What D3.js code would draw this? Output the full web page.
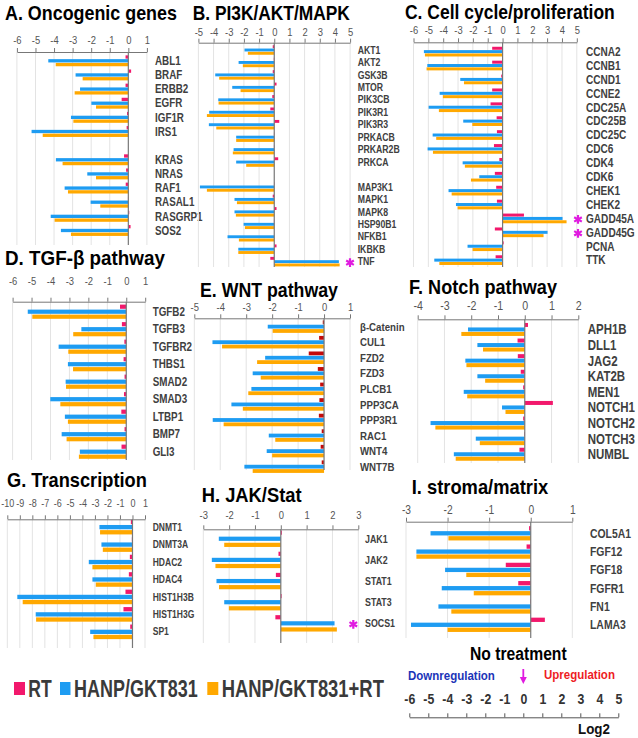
<!DOCTYPE html>
<html><head><meta charset="utf-8">
<script src="https://cdn.jsdelivr.net/npm/d3@7"></script>
<style>body{margin:0;background:#fff}</style>
</head><body>
<svg id="c" width="638" height="738"></svg>
<script>
// ---------- DATA ----------
const aGenes = ["ABL1","BRAF","ERBB2","EGFR","IGF1R","IRS1","KRAS","NRAS","RAF1","RASAL1","RASGRP1","SOS2"];
const aRT   = [-0.15,0.15,-0.15,-0.36,-0.07,-0.09,-0.23,-0.12,-0.14,-0.02,0.05,0.12];
const aHG   = [-4.31,-2.84,-2.6,-1.99,-3.09,-5.21,-3.9,-2.21,-3.43,-2.03,-4.18,-3.63];
const aHGRT = [-3.91,-2.46,-2.89,-1.74,-2.96,-4.61,-3.54,-1.74,-3.25,-1.51,-3.97,-3.09];
const aTicks = [-6,-5,-4,-3,-2,-1,0,1];

const bGenes = ["AKT1","AKT2","GSK3B","MTOR","PIK3CB","PIK3R1","PIK3R3","PRKACB","PRKAR2B","PRKCA","MAP3K1","MAPK1","MAPK8","HSP90B1","NFKB1","IKBKB","TNF"];
const bRT   = [-0.1,-0.03,-0.1,0.15,-0.13,-0.26,0.33,-0.02,-0.02,0.26,0.02,-0.1,0.15,-0.02,0,0.15,-0.26];
const bHG   = [-1.96,-2.35,-3.89,-2.77,-3.69,-4.29,-4.31,-2.51,-2.68,-2.51,-4.9,-2.62,-2.62,-2.02,-3.08,-2.37,4.26];
const bHGRT = [-1.74,-2.07,-3.63,-2.22,-3.67,-4.44,-3.82,-2.51,-2.73,-1.85,-4.44,-2.46,-2.53,-1.93,-2.33,-2.37,4.31];
const bTicks = [-5,-4,-3,-2,-1,0,1,2,3,4,5];

const cGenes = ["CCNA2","CCNB1","CCND1","CCNE2","CDC25A","CDC25B","CDC25C","CDC6","CDK4","CDK6","CHEK1","CHEK2","GADD45A","GADD45G","PCNA","TTK"];
const cRT   = [-0.7,-0.7,-0.09,-0.7,-0.81,-0.4,-0.38,-0.58,-0.22,-0.52,-0.43,-0.38,1.44,-0.52,0.07,-0.47];
const cHG   = [-5.3,-5.07,-2.85,-4.24,-4.98,-2.65,-4.71,-5.05,-2.69,-1.57,-3.64,-3.14,4.04,3.03,-2.36,-4.6];
const cHGRT = [-5.23,-5.12,-2.6,-4.02,-4.29,-2.04,-4.47,-4.69,-2.54,-2.13,-3.43,-3.03,4.31,2.76,-2.02,-4.26];
const cTicks = [-6,-5,-4,-3,-2,-1,0,1,2,3,4,5];

const dGenes = ["TGFB2","TGFB3","TGFBR2","THBS1","SMAD2","SMAD3","LTBP1","BMP7","GLI3"];
const dRT   = [-0.33,-0.23,-0.1,-0.14,-0.09,-0.12,-0.26,-0.09,-0.25];
const dHG   = [-5.2,-2.37,-3.57,-3.08,-3.2,-4.01,-3.24,-3.41,-2.45];
const dHGRT = [-4.96,-2.8,-3.06,-2.81,-3.18,-3.48,-3.08,-3.15,-2.5];
const dTicks = [-6,-5,-4,-3,-2,-1,0,1];

const eGenes = ["β-Catenin","CUL1","FZD2","FZD3","PLCB1","PPP3CA","PPP3R1","RAC1","WNT4","WNT7B"];
const eRT   = [-0.05,-0.19,-0.59,-0.24,-0.15,-0.18,-0.2,-0.09,-0.13,-0.09];
const eHG   = [-2.17,-4.3,-2.27,-2.75,-2.8,-3.57,-4.29,-2.13,-2.21,-3.07];
const eHGRT = [-1.98,-3.93,-2.58,-2.44,-2.92,-3.13,-3.87,-1.88,-2.0,-2.75];
const eTicks = [-5,-4,-3,-2,-1,0,1];

const fGenes = ["APH1B","DLL1","JAG2","KAT2B","MEN1","NOTCH1","NOTCH2","NOTCH3","NUMBL"];
const fRT   = [0.12,-0.27,-0.26,-0.15,-0.06,1.05,-0.06,-0.02,-0.2];
const fHG   = [-2.12,-1.77,-2.22,-1.77,-2.28,-0.85,-3.52,-1.83,-2.65];
const fHGRT = [-2.37,-1.56,-2.18,-1.48,-2.15,-0.72,-3.34,-1.68,-2.58];
const fTicks = [-4,-3,-2,-1,0,1,2];

const gGenes = ["DNMT1","DNMT3A","HDAC2","HDAC4","HIST1H3B","HIST1H3G","SP1"];
const gRT   = [-0.13,-0.05,-0.21,-0.29,-0.56,-0.72,-0.18];
const gHG   = [-2.64,-2.48,-3.49,-3.2,-9.2,-7.73,-3.38];
const gHGRT = [-2.59,-2.37,-3.2,-2.93,-8.77,-7.7,-3.12];
const gTicks = [-10,-9,-8,-7,-6,-5,-4,-3,-2,-1,0,1];

const hGenes = ["JAK1","JAK2","STAT1","STAT3","SOCS1"];
const hRT   = [0.04,-0.09,-0.19,0.03,-0.21];
const hHG   = [-2.4,-2.67,-2.49,-2.19,2.08];
const hHGRT = [-2.19,-2.53,-2.39,-2.01,2.17];
const hTicks = [-3,-2,-1,0,1,2,3];

const iGenes = ["COL5A1","FGF12","FGF18","FGFR1","FN1","LAMA3"];
const iRT   = [-0.04,-0.1,-0.6,-0.3,-0.01,0.34];
const iHG   = [-2.41,-2.75,-2.06,-2.14,-2.22,-2.88];
const iHGRT = [-1.98,-2.75,-1.55,-1.37,-1.91,-2.0];
const iTicks = [-3,-2,-1,0,1];

const scaleTicks = [-6,-5,-4,-3,-2,-1,0,1,2,3,4,5];
const seriesNames = ["RT","HANP/GKT831","HANP/GKT831+RT"];

// ---------- STYLE ----------
const NARROW = "'Liberation Sans Narrow','Arial Narrow','Liberation Sans',Arial,sans-serif";
const SQUEEZE = 0.82;
const COLORS = {rt:"#f2186c", hg:"#1e9cf2", hgrt:"#ffa800"};
const STAR = "#e01be0";
const svg = d3.select("#c");

function panel(p, genes, rt, hg, hgrt, ticks, starred){
  const x = d3.scaleLinear().domain([ticks[0], ticks[ticks.length-1]]).range(p.xr);
  const slots = genes.slice();
  if (p.gapAfter != null) slots.splice(p.gapAfter+1, 0, "__gap");
  const y = d3.scaleBand().domain(slots).range([p.top, p.top + slots.length*p.step]);
  const sub = d3.scaleBand().domain(["rt","hg","hgrt"]).range([0, 3*p.sub]);
  const g = svg.append("g");
  g.selectAll("line.grid").data(ticks.filter(t=>t!==0)).join("line")
    .attr("x1",d=>x(d)).attr("x2",d=>x(d)).attr("y1",p.axisY).attr("y2",p.bottom)
    .attr("stroke","#e3e3e3").attr("stroke-width",1);
  const rows = genes.map((n,i)=>({n, rt:rt[i], hg:hg[i], hgrt:hgrt[i]}));
  ["rt","hg","hgrt"].forEach(k=>{
    g.selectAll("rect."+k).data(rows).join("rect").attr("class",k)
      .attr("x",d=>Math.min(x(0),x(d[k]))).attr("width",d=>Math.abs(x(d[k])-x(0)))
      .attr("y",d=>y(d.n)+sub(k)+(p.sub-p.t)/2).attr("height",p.t)
      .attr("fill", (k==="rt" && p.rtColor) ? p.rtColor : COLORS[k]);
  });
  g.append("line").attr("x1",x(0)).attr("x2",x(0)).attr("y1",p.axisY).attr("y2",p.bottom)
    .attr("stroke","#777").attr("stroke-width",1.2);
  const ax = g.append("g").attr("transform",`translate(0,${p.axisY})`)
    .call(d3.axisTop(x).tickValues(ticks).tickSize(4).tickSizeOuter(0).tickFormat(d=>String(d)));
  ax.select(".domain").attr("stroke","#777");
  ax.selectAll(".tick line").attr("stroke","#777");
  ax.selectAll(".tick text").attr("class","nar").attr("y",-p.gap).attr("dy","0.35em")
    .attr("font-family",NARROW).attr("font-size",p.tickSize||11.5).attr("fill","#555");
  g.selectAll("text.lab").data(genes).join("text").attr("class","lab nar")
    .attr("x",p.labelX).attr("y",d=>y(d)+sub("hg")+p.sub/2).attr("dy","0.35em")
    .attr("font-family",NARROW).attr("font-weight","bold").attr("font-size",p.labelSize)
    .attr("fill","#404040").text(d=>d);
  if (starred) starred.forEach(n=>{
    g.append("path").attr("d",d3.symbol(d3.symbolAsterisk,55)())
      .attr("transform",`translate(${p.starX},${y(n)+sub("hg")+p.sub/2+1})`)
      .attr("stroke",STAR).attr("stroke-width",2.2).attr("fill","none");
  });
  svg.append("text").attr("class","fit").attr("data-w",p.title[2]-p.title[1])
    .attr("x",p.title[1]).attr("y",p.title[3]+7)
    .attr("font-family",NARROW).attr("font-weight","bold").attr("font-size",20).attr("fill","#000")
    .text(p.title[0]);
}

panel({xr:[16.9,146.9],axisY:52,gap:12,top:55.1,step:14.14,sub:3.8,t:3.3,gapAfter:5,labelX:155,labelSize:12,bottom:245,
  title:["A. Oncogenic genes",5,177,13.3]}, aGenes,aRT,aHG,aHGRT,aTicks);
panel({xr:[198.4,350.1],axisY:42.7,gap:10.7,top:45.05,step:12.45,sub:3.3,t:2.9,gapAfter:9,labelX:357.7,labelSize:10.6,bottom:267,starX:350,
  title:["B. PI3K/AKT/MAPK",192.7,350,13]}, bGenes,bRT,bHG,bHGRT,bTicks,["TNF"]);
panel({xr:[413.5,576.8],axisY:42.3,gap:12.3,top:46.6,step:13.9,sub:3.35,t:3.0,labelX:586,labelSize:12.3,bottom:267,starX:578,
  title:["C. Cell cycle/proliferation",405,615,11.7]}, cGenes,cRT,cHG,cHGRT,cTicks,["GADD45A","GADD45G"]);
panel({xr:[12.6,145.2],axisY:301.7,gap:21,top:304.2,step:17.5,sub:5,t:4.2,labelX:152.7,labelSize:12,bottom:460,
  title:["D. TGF-β pathway",5,165,258]}, dGenes,dRT,dHG,dHGRT,dTicks);
panel({xr:[194.3,350],axisY:318.3,gap:11.5,top:320.1,step:15.56,sub:4.35,t:3.8,labelX:360,labelSize:11.8,bottom:470,rtColor:"#c40a0a",
  title:["E. WNT pathway",200,338,290]}, eGenes,eRT,eHG,eHGRT,eTicks);
panel({xr:[417.7,578.3],axisY:319.3,gap:14.3,top:322.7,step:15.6,sub:4.5,t:4,labelX:587.7,labelSize:14,bottom:463,tickSize:13,
  title:["F. Notch pathway",409,557,286.7]}, fGenes,fRT,fHG,fHGRT,fTicks);
panel({xr:[7.3,145],axisY:519.3,gap:16,top:519.4,step:17.45,sub:5.15,t:4.3,labelX:152.7,labelSize:10.4,bottom:648,tickSize:11,
  title:["G. Transcription",7,147,480]}, gGenes,gRT,gHG,gHGRT,gTicks);
panel({xr:[203.3,358.3],axisY:529.3,gap:14.3,top:529.6,step:21.15,sub:6.1,t:4.2,labelX:365,labelSize:10.8,bottom:643,starX:353.3,
  title:["H. JAK/Stat",201.7,301.7,495]}, hGenes,hRT,hHG,hHGRT,hTicks,["SOCS1"]);
panel({xr:[406,572.3],axisY:521.7,gap:12.4,top:525.8,step:18.3,sub:5,t:4.3,labelX:590,labelSize:12.7,bottom:638,tickSize:12.5,
  title:["I. stroma/matrix",411.7,548.3,486.7]}, iGenes,iRT,iHG,iHGRT,iTicks);

// ---------- LEGEND ----------
const legItems = [
  {name:seriesNames[0], c:COLORS.rt,  sq:[14,25],   tx:[28.3,51.7]},
  {name:seriesNames[1], c:COLORS.hg,  sq:[60,70.5], tx:[74,198]},
  {name:seriesNames[2], c:COLORS.hgrt,sq:[207.3,218.3], tx:[221.7,384]}
];
legItems.forEach(d=>{
  svg.append("rect").attr("x",d.sq[0]).attr("y",682).attr("width",d.sq[1]-d.sq[0]).attr("height",13).attr("fill",d.c);
  svg.append("text").attr("class","fit").attr("data-w",d.tx[1]-d.tx[0])
    .attr("x",d.tx[0]).attr("y",688.5).attr("dy","0.36em")
    .attr("font-family",NARROW).attr("font-weight","bold").attr("font-size",23).attr("fill","#3a3a3a")
    .text(d.name);
});

// ---------- SCALE BAR ----------
const sx = d3.scaleLinear().domain([scaleTicks[0],scaleTicks[scaleTicks.length-1]]).range([409.3,618.3]);
const sax = svg.append("g").attr("transform","translate(0,717.3)")
  .call(d3.axisTop(sx).tickValues(scaleTicks).tickSize(4).tickSizeOuter(0).tickFormat(d=>String(d)));
sax.select(".domain").attr("stroke","#555");
sax.selectAll(".tick line").attr("stroke","#555");
sax.selectAll(".tick text").attr("class","nar").attr("y",-19).attr("dy","0.35em").attr("font-family",NARROW)
  .attr("font-size",15).attr("font-weight","bold").attr("fill","#333");
function txt(s,x1,x2,yc,size,color){
  svg.append("text").attr("class","fit").attr("data-w",x2-x1)
    .attr("x",x1).attr("y",yc).attr("dy","0.36em").attr("font-family",NARROW)
    .attr("font-weight","bold").attr("font-size",size).attr("fill",color).text(s);
}
txt("No treatment",470,566.7,653.3,19,"#000");
txt("Downregulation",408,495,675.2,13.5,"#1c34b8");
txt("Upregulation",544,615,674.5,13.5,"#ee1c24");
txt("Log2",578,610,728.3,15,"#111");
// arrow
svg.append("line").attr("x1",sx(0)).attr("x2",sx(0)).attr("y1",669).attr("y2",680).attr("stroke",STAR).attr("stroke-width",1.8);
svg.append("path").attr("d",`M${sx(0)-3.5},677 L${sx(0)+3.5},677 L${sx(0)},684 Z`).attr("fill",STAR);

// narrow-font emulation: horizontal scaling by transform
function squeeze(el, f){
  const x0 = +(el.getAttribute("x") || 0);
  el.setAttribute("x", 0);
  el.setAttribute("transform", `translate(${x0},0) scale(${f},1)`);
}
svg.selectAll("text.nar").each(function(){ squeeze(this, SQUEEZE); });
svg.selectAll("text.fit").each(function(){
  const w = this.getComputedTextLength();
  if (w > 0) squeeze(this, +this.getAttribute("data-w") / w);
});
</script>
</body></html>
